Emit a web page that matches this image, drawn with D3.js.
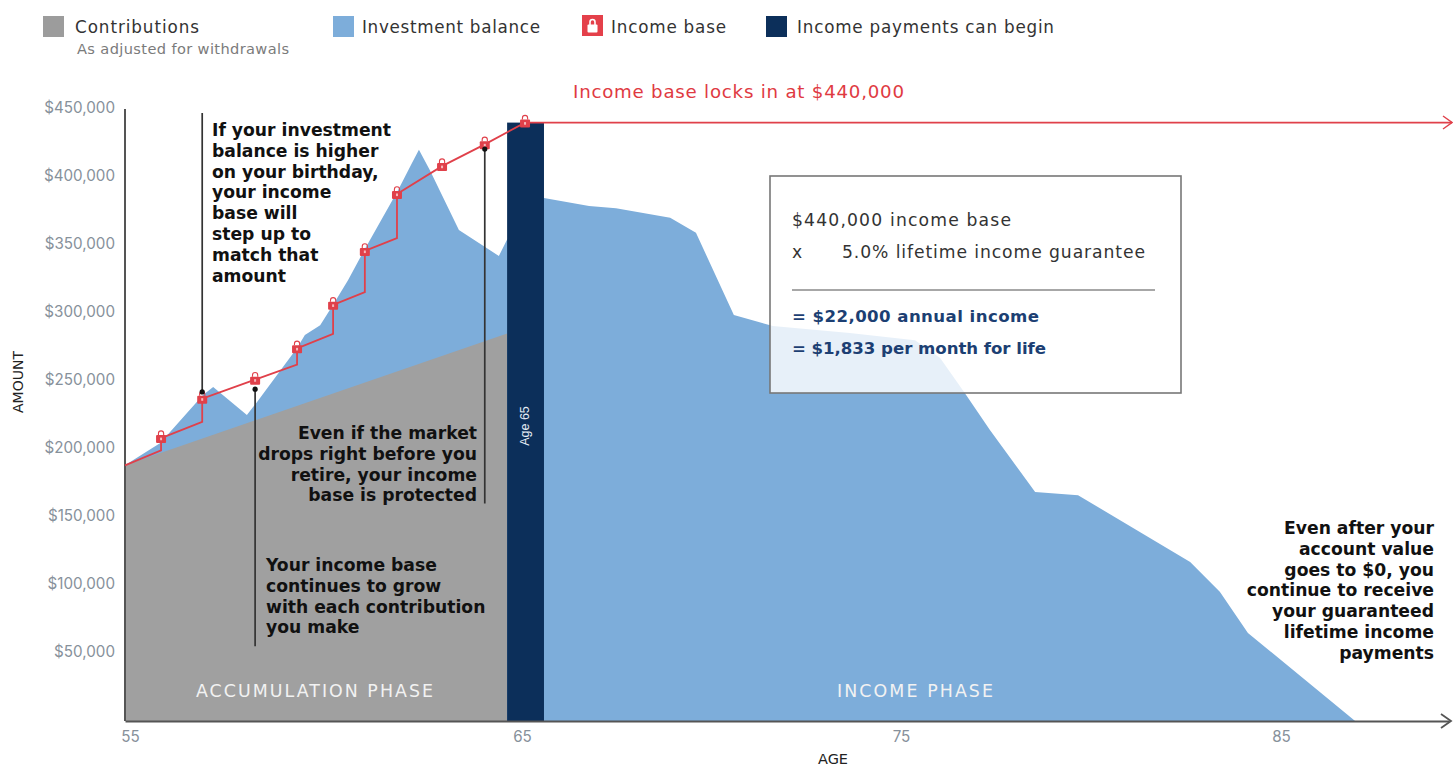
<!DOCTYPE html>
<html><head><meta charset="utf-8">
<script src="https://cdn.jsdelivr.net/npm/d3@7/dist/d3.min.js"></script>
<style>
html,body{margin:0;padding:0;background:#fff;overflow:hidden}
svg{display:block}
text{font-family:"DejaVu Sans",Inter,sans-serif}
</style></head><body><svg id="c" width="1453" height="767"></svg>
<script>
// ---- data (ages in years, amounts in thousands of dollars) ----
const balanceAges=[54.87,54.92,55.77,56.86,57.12,57.98,58.24,59.26,59.46,59.85,60.18,60.56,60.97,61.84,62.17,62.37,62.65,63.39,63.93,64.41,64.62,65.58,66.77,67.48,68.91,69.59,70.59,71.62,73.65,75.37,76.03,76.66,77.34,78.53,79.66,82.61,83.39,84.13,86.95];
const balanceValues=[188,189,204.4,239.7,245.6,225,234.6,274.3,283.8,291,306,324,346,390.4,409,420,405,361,351,342,354,384.6,378.7,377,370,359,298.5,290.4,285.3,280,267,242,214,168.4,166,117,95,64.7,0];
const contributionAges=[54.87,64.62];
const contributionValues=[188,285];
const incomeAges=[54.87,55.79,55.79,56.84,56.84,58.19,59.26,59.26,60.18,60.18,60.99,60.99,61.81,61.81,62.96,64.05,65.08,89.5];
const incomeValues=[188,199,208,220,237,251,262,274,284.6,306,315.4,345.6,355,387.5,408,424,440,440];
const lockAges=[55.79,56.84,58.19,59.26,60.18,60.99,61.81,62.96,64.05,65.08];
const lockValues=[208,237,251,274,306,345.6,387.5,408,424,440];
const barAges=[64.62,65.58];
const barTop=440;
const yTicks=[50,100,150,200,250,300,350,400,450];
const xTicks=[55,65,75,85];
const callouts=[{age:56.84,from:242,to:447},{age:58.19,from:244,to:55},{age:64.05,from:420.5,to:160}];

const legendA=["Contributions","Investment balance","Income base","Income payments can begin"];
const noteA=["If your investment","balance is higher","on your birthday,","your income","base will","step up to","match that","amount"];
const noteB=["Even if the market","drops right before you","retire, your income","base is protected"];
const noteC=["Your income base","continues to grow","with each contribution","you make"];
const noteD=["Even after your","account value","goes to $0, you","continue to receive","your guaranteed","lifetime income","payments"];

// ---- colours ----
const GREY="#a0a0a0",BLUE="#7dadda",NAVY="#0c2f5a",RED="#e0404a",INK="#1a1a1a",TICK="#87919b";

const svg=d3.select("#c");
const x=d3.scaleLinear().domain([54.87,65,75,85,89.42]).range([125,522,901,1281,1449]);
const y=d3.scaleLinear().domain([0,450]).range([721,109]);

const area=(ages,vals)=>d3.area().x((d,i)=>x(ages[i])).y0(y(0)).y1(d=>y(d))(vals);

svg.append("path").attr("d",area(balanceAges,balanceValues)).attr("fill",BLUE);
svg.append("path").attr("d",area(contributionAges,contributionValues)).attr("fill",GREY);
svg.append("rect").attr("x",x(barAges[0])).attr("width",x(barAges[1])-x(barAges[0]))
  .attr("y",y(barTop)).attr("height",y(0)-y(barTop)).attr("fill",NAVY);

// axes
const yAxis=d3.axisLeft(y).tickValues(yTicks).tickSize(0).tickPadding(10)
  .tickFormat(d=>"$"+d3.format(",")(d*1000));
const gy=svg.append("g").attr("transform","translate(125,0)").call(yAxis);
const xAxis=d3.axisBottom(x).tickValues(xTicks).tickSize(0).tickPadding(10);
const gx=svg.append("g").attr("transform","translate(0,721)").call(xAxis);
[gy,gx].forEach(g=>{
  g.select(".domain").attr("stroke","#555").attr("stroke-width",2);
  g.selectAll("text").attr("fill",TICK).attr("font-size",15.2).style("font-family","Inter,sans-serif");
});
gy.selectAll("text").attr("dy","0.32em").attr("transform","translate(0,-1)");
gy.select(".domain").attr("d",`M0,${y(450)}V${y(0)}`);
svg.append("path").attr("d","M1441,714L1451,721L1441,728").attr("fill","none").attr("stroke","#555").attr("stroke-width",1.8);

// income base line
svg.append("path").datum(incomeValues)
  .attr("d",d3.line().x((d,i)=>x(incomeAges[i])).y(d=>y(d)))
  .attr("fill","none").attr("stroke",RED).attr("stroke-width",1.8);
svg.append("path").attr("d","M1443,116L1452,122.5L1443,129").attr("fill","none").attr("stroke",RED).attr("stroke-width",1.4);

// locks
const lock=svg.append("g").selectAll("g").data(lockAges).join("g")
  .attr("transform",(d,i)=>`translate(${x(d)},${y(lockValues[i])})`);
lock.append("rect").attr("x",-5).attr("y",-3).attr("width",10).attr("height",8).attr("rx",1).attr("fill",RED);
lock.append("path").attr("d","M-2.6,-3V-4.6a2.6,2.6 0 0 1 5.2,0V-3").attr("fill","none").attr("stroke",RED).attr("stroke-width",1.1);
lock.append("rect").attr("x",-1).attr("y",-0.5).attr("width",2).attr("height",2.6).attr("fill","#f6b9bd");

// callout lines
const co=svg.append("g");
callouts.forEach(c=>{
  co.append("line").attr("x1",x(c.age)).attr("x2",x(c.age)).attr("y1",y(c.from)).attr("y2",y(c.to))
    .attr("stroke","#333").attr("stroke-width",1.7);
  co.append("circle").attr("cx",x(c.age)).attr("cy",y(c.from)).attr("r",2.6).attr("fill","#111");
});

// legend
const swatch=(xp,yp,c)=>svg.append("rect").attr("x",xp).attr("y",yp).attr("width",21).attr("height",21).attr("fill",c);
swatch(43,16,"#9c9c9c");swatch(333,16,BLUE);swatch(582,15,"#e4404a");swatch(766,16,NAVY);
svg.append("rect").attr("x",587.5).attr("y",24.5).attr("width",10).attr("height",8).attr("rx",1).attr("fill","#fff");
svg.append("path").attr("d","M590,25V22a2.5,2.5 0 0 1 5,0V25").attr("fill","none").attr("stroke","#fff").attr("stroke-width",1.6);

function txt(s,xp,yp,o={}){
  const t=svg.append("text").attr("x",xp).attr("y",yp).attr("dy","0.35em").text(s)
    .attr("font-size",o.size||16).attr("font-weight",o.weight||400).attr("fill",o.fill||INK)
    .attr("text-anchor",o.anchor||"start");
  if(o.len) t.attr("textLength",o.len).attr("lengthAdjust","spacing");
  return t;
}
txt(legendA[0],75,27,{size:16.8,fill:"#333",len:124});
txt(legendA[1],362,27,{size:16.8,fill:"#333",len:178});
txt(legendA[2],611,27,{size:16.8,fill:"#333",len:115});
txt(legendA[3],797,27,{size:16.8,fill:"#333",len:257});
txt("As adjusted for withdrawals",77,49,{size:14.6,fill:"#7b7b7b",len:212});

txt("Income base locks in at $440,000",573,92,{size:18.2,fill:"#df3a42",len:331});

// notes
const LS=20.8;
const note=(lines,xp,yp,anchor)=>lines.forEach((l,i)=>txt(l,xp,yp+i*LS,{size:17.2,weight:700,fill:"#111",anchor}));
note(noteA,212,130,"start");
note(noteB,477,433,"end");
note(noteC,266,565,"start");
note(noteD,1434,528,"end");

// phases
txt("ACCUMULATION PHASE",196,691,{size:17.4,fill:"#f2f2f2",len:237});
txt("INCOME PHASE",837,691,{size:17.4,fill:"#f2f2f2",len:156});
svg.append("text").attr("transform",`translate(${x(65.08)},426) rotate(-90)`).attr("text-anchor","middle").attr("dy","0.35em")
  .attr("font-size",12.5).attr("fill","#e6edf5").style("font-family","Liberation Sans,sans-serif").text("Age 65");

// axis titles
svg.append("text").attr("transform","translate(18,382) rotate(-90)").attr("text-anchor","middle").attr("dy","0.35em")
  .attr("font-size",14).attr("fill","#222").text("AMOUNT");
txt("AGE",833,759,{size:14.5,fill:"#222",anchor:"middle"});

// info box
svg.append("rect").attr("x",770).attr("y",176).attr("width",411).attr("height",217)
  .attr("fill","#fff").attr("fill-opacity",0.82).attr("stroke","#777").attr("stroke-width",1.6);
txt("$440,000 income base",792,220,{size:17.2,fill:"#333",len:219});
txt("x",792,252,{size:17.2,fill:"#333"});
txt("5.0% lifetime income guarantee",842,252,{size:17.2,fill:"#333",len:303});
svg.append("line").attr("x1",792).attr("x2",1155).attr("y1",290).attr("y2",290).attr("stroke","#8a8a8a").attr("stroke-width",1.6);
txt("= $22,000 annual income",792,316,{size:16.6,weight:700,fill:"#1c3f73",len:247});
txt("= $1,833 per month for life",792,348,{size:16.6,weight:700,fill:"#1c3f73",len:254});
</script></body></html>
